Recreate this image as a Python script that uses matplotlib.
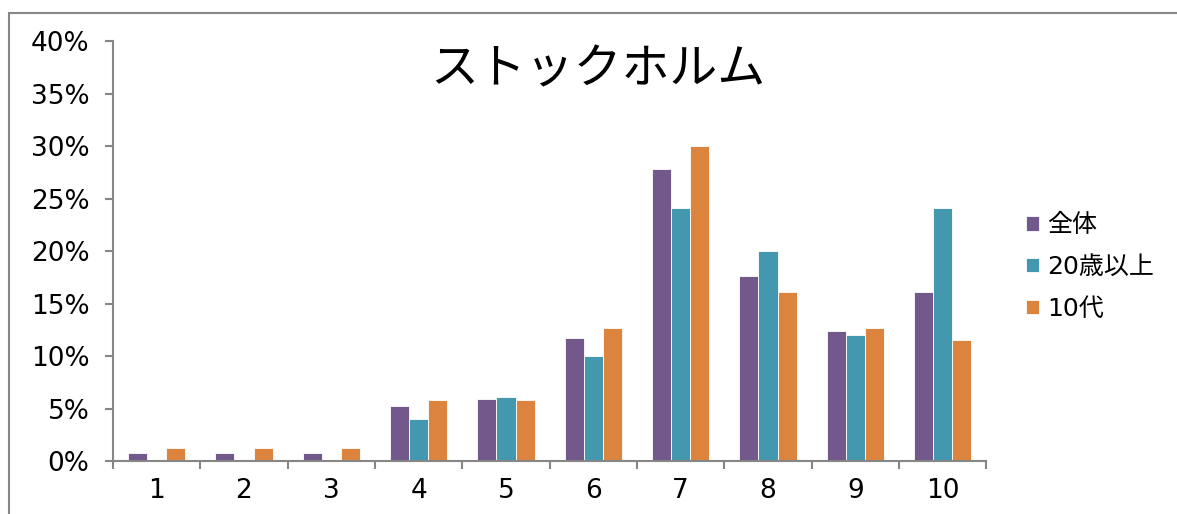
import numpy as np
import matplotlib
matplotlib.use('Agg')
import matplotlib.pyplot as plt
from matplotlib.patches import Rectangle

plt.rcParams['font.family'] = ['DejaVu Sans', 'Noto Sans CJK JP']

# data (percent)
categories = ['1', '2', '3', '4', '5', '6', '7', '8', '9', '10']
series_names = ['全体', '20歳以上', '10代']
zentai = [0.8, 0.8, 0.8, 5.2, 5.9, 11.7, 27.8, 17.6, 12.4, 16.1]
over20 = [0.0, 0.0, 0.0, 4.0, 6.1, 10.0, 24.1, 20.0, 12.0, 24.1]
teens = [1.2, 1.2, 1.2, 5.8, 5.8, 12.7, 30.0, 16.1, 12.7, 11.5]
colors = ['#73588C', '#4398AF', '#DC843E']

fig = plt.figure(figsize=(11.77, 5.14), dpi=100)
ax = fig.add_axes([0.096, 0.103, 0.742, 0.817])

x = np.arange(len(categories))
w = 0.22
for i, (vals, name) in enumerate(zip([zentai, over20, teens], series_names)):
    ax.bar(x + (i - 1) * w, vals, w, color=colors[i], label=name,
           edgecolor='white', linewidth=0.6)

gray = '#868686'
ax.set_xlim(-0.5, len(categories) - 0.5)
ax.set_ylim(0, 40)
ax.set_yticks(np.arange(0, 41, 5))
ax.set_yticklabels([f'{v}%' for v in range(0, 41, 5)])
ax.set_xticks(x)
ax.set_xticklabels(categories)
ax.set_xticks(np.arange(-0.5, len(categories), 1), minor=True)
ax.tick_params(axis='x', which='major', length=0, pad=12, labelsize=19)
ax.tick_params(axis='x', which='minor', length=6, width=1.5, color=gray)
ax.tick_params(axis='y', length=6, width=1.5, color=gray, pad=11, labelsize=19)
for s in ['top', 'right']:
    ax.spines[s].set_visible(False)
for s in ['left', 'bottom']:
    ax.spines[s].set_color(gray)
    ax.spines[s].set_linewidth(1.5)

fig.text(0.508, 0.865, 'ストックホルム', ha='center', va='center', fontsize=34.5,
         family=['Noto Sans CJK JP', 'DejaVu Sans'])

ax.legend(loc='center left', bbox_to_anchor=(1.02, 0.462), frameon=False,
          fontsize=18, handlelength=0.52, handleheight=0.52, handletextpad=0.3,
          labelspacing=0.71)

# outer chart border
fig.add_artist(Rectangle((9 / 1177, -0.1), 1.2, 1 - 13 / 514 + 0.1,
                         transform=fig.transFigure, fill=False,
                         edgecolor=gray, linewidth=1.5))

fig.savefig('out.png', dpi=100)
